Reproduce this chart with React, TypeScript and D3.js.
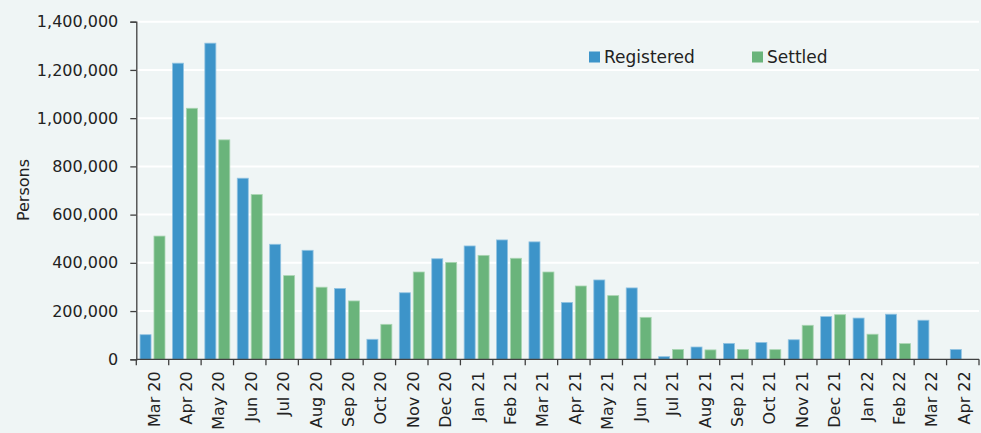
import React, { useEffect, useRef } from "react";
import * as d3 from "d3";

const categories = ["Mar 20","Apr 20","May 20","Jun 20","Jul 20","Aug 20","Sep 20","Oct 20","Nov 20","Dec 20","Jan 21","Feb 21","Mar 21","Apr 21","May 21","Jun 21","Jul 21","Aug 21","Sep 21","Oct 21","Nov 21","Dec 21","Jan 22","Feb 22","Mar 22","Apr 22"];
const registered = [102000,1228000,1311000,751000,477000,452000,294000,83000,276000,417000,470000,495000,487000,236000,329000,296000,11000,51000,66000,70000,81000,177000,171000,187000,162000,41000];
const settled: (number | null)[] = [511000,1041000,910000,683000,347000,299000,242000,145000,362000,402000,431000,419000,362000,304000,264000,174000,41000,39000,41000,40000,141000,185000,104000,65000,null,null];
const yTicks = [0,200000,400000,600000,800000,1000000,1200000,1400000];
const seriesNames = ["Registered","Settled"];

const W = 981, H = 433;
const FONT = "'DejaVu Sans', sans-serif";

export default function App() {
  const ref = useRef<SVGSVGElement>(null);
  useEffect(() => {
    const svg = d3.select(ref.current);
    svg.selectAll("*").remove();
    const left = 136.3, right = 979, top = 21.7, bottom = 359.3;
    svg.append("rect").attr("width", W).attr("height", H).attr("fill", "#eff5f5");
    const x = d3.scaleBand().domain(categories).range([left, right]).paddingInner(0).paddingOuter(0);
    const y = d3.scaleLinear().domain([0, 1400000]).range([bottom, top]);
    const bw = x.bandwidth();
    const barW = bw * 0.34;
    const gap = bw * 0.09;
    const off = (bw - 2 * barW - gap) / 2;

    // gridlines
    svg.append("g").selectAll("line").data(yTicks.filter(t => t > 0)).join("line")
      .attr("x1", left).attr("x2", right).attr("y1", d => y(d)).attr("y2", d => y(d))
      .attr("stroke", "#ffffff").attr("stroke-width", 2);

    const colors = ["#3d94c9", "#6ab47b"];
    const strokes = ["#93c4e2", "#a9d5b2"];
    [registered, settled].forEach((vals, si) => {
      svg.append("g").selectAll("rect").data(vals.map((v, i) => ({ v, c: categories[i] })).filter(d => d.v != null))
        .join("rect")
        .attr("x", d => (x(d.c) as number) + off + si * (barW + gap))
        .attr("y", d => y(d.v as number))
        .attr("width", barW)
        .attr("height", d => bottom - y(d.v as number))
        .attr("fill", colors[si])
        .attr("stroke", strokes[si]).attr("stroke-width", 0.8);
    });

    // y axis
    const ya = svg.append("g").attr("transform", `translate(${left},0)`)
      .call(d3.axisLeft(y).tickValues(yTicks).tickSize(6).tickPadding(12).tickFormat(d => d3.format(",")(d as number)));
    ya.select(".domain").attr("stroke", "#404040").attr("stroke-width", 1.3);
    ya.selectAll(".tick line").attr("stroke", "#404040").attr("stroke-width", 1.3);
    ya.selectAll("text").attr("font-family", FONT).attr("font-size", 16).attr("fill", "#222");

    // x axis
    const xa = svg.append("g").attr("transform", `translate(0,${bottom})`);
    xa.append("line").attr("x1", left).attr("x2", right).attr("y1", 0).attr("y2", 0).attr("stroke", "#404040").attr("stroke-width", 1.3);
    const bounds = [...categories.map(c => x(c) as number), right];
    xa.selectAll("line.tk").data(bounds).join("line").attr("class", "tk")
      .attr("x1", d => d).attr("x2", d => d).attr("y1", 0).attr("y2", 6)
      .attr("stroke", "#404040").attr("stroke-width", 1.3);
    xa.selectAll("text").data(categories).join("text")
      .attr("transform", d => `translate(${(x(d) as number) + bw / 2 + 7},12) rotate(-90)`)
      .attr("text-anchor", "end")
      .attr("font-family", FONT).attr("font-size", 16).attr("fill", "#222")
      .text(d => d);

    // y title
    svg.append("text").attr("transform", "translate(29,190) rotate(-90)")
      .attr("text-anchor", "middle").attr("font-family", FONT).attr("font-size", 16).attr("fill", "#222")
      .text("Persons");

    // legend
    const lx = [589, 752];
    seriesNames.forEach((n, i) => {
      svg.append("rect").attr("x", lx[i]).attr("y", 51.5).attr("width", 11).attr("height", 11).attr("fill", colors[i]);
      svg.append("text").attr("x", lx[i] + 15).attr("y", 63).attr("font-family", FONT).attr("font-size", 17).attr("fill", "#222").text(n);
    });
  }, []);
  return (
    <svg ref={ref} width={W} height={H} style={{ position: "absolute", left: 0, top: 0, display: "block" }} />
  );
}
